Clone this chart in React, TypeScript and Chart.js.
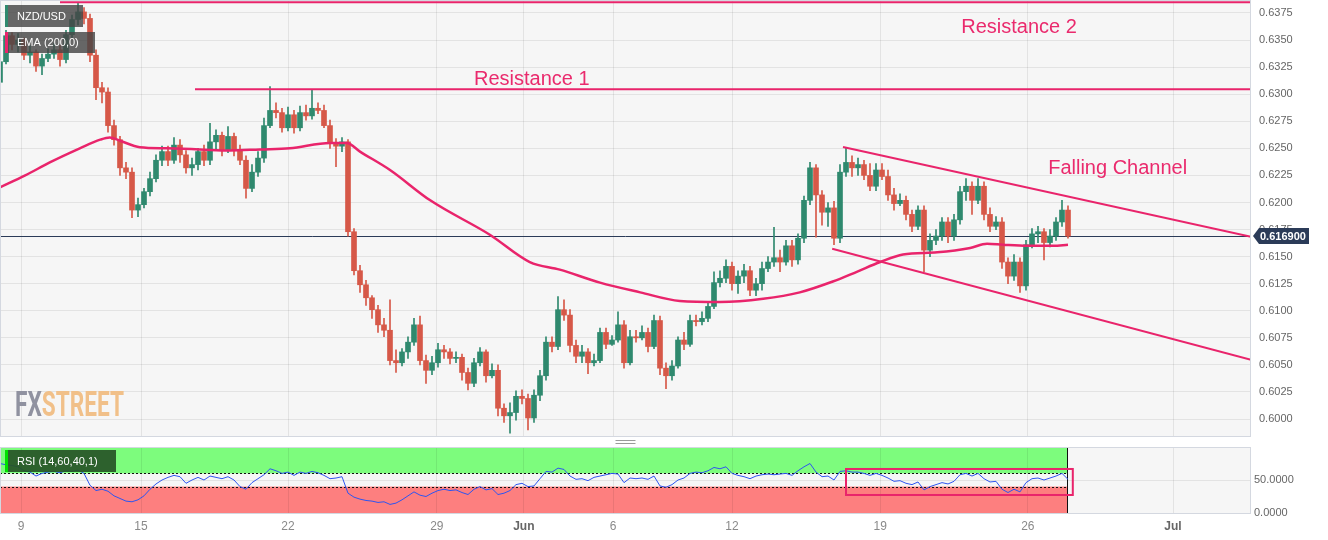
import React, { useEffect, useRef } from "react";
import { Chart, registerables } from "chart.js";

Chart.register(...registerables);

const FONT = "'Liberation Sans', Arial, sans-serif";

// ---- candle data (one candle per slot) ----
const opens = [0.6311, 0.6330, 0.6354, 0.6346, 0.6350, 0.6336, 0.6339, 0.6326, 0.6333, 0.6337,
  0.6341, 0.6332, 0.6355, 0.6369, 0.6376, 0.6370, 0.6336, 0.6306, 0.6302, 0.6271,
  0.6258, 0.6232, 0.6228, 0.6193, 0.6198, 0.6210, 0.6222, 0.6239, 0.6247, 0.6239,
  0.6253, 0.6244, 0.6232, 0.6235, 0.6247, 0.6239, 0.6256, 0.6262, 0.6248, 0.6261,
  0.6248, 0.6239, 0.6213, 0.6228, 0.6241, 0.6271, 0.6285, 0.6283, 0.6269, 0.6281,
  0.6269, 0.6283, 0.6280, 0.6287, 0.6285, 0.6271, 0.6255, 0.6252, 0.6256, 0.6173,
  0.6137, 0.6124, 0.6112, 0.6101, 0.6087, 0.6082, 0.6054, 0.6052, 0.6062, 0.6071,
  0.6087, 0.6054, 0.6045, 0.6052, 0.6064, 0.6062, 0.6056, 0.6057, 0.6043, 0.6033,
  0.6052, 0.6062, 0.6040, 0.6045, 0.6010, 0.6003, 0.6006, 0.6021, 0.6019, 0.6001,
  0.6022, 0.6040, 0.6071, 0.6067, 0.6101, 0.6096, 0.6068, 0.6058, 0.6062, 0.6052,
  0.6054, 0.6080, 0.6069, 0.6073, 0.6087, 0.6052, 0.6076, 0.6075, 0.6080, 0.6067,
  0.6091, 0.6047, 0.6040, 0.6049, 0.6073, 0.6069, 0.6091, 0.6090, 0.6093, 0.6104,
  0.6126, 0.6130, 0.6141, 0.6125, 0.6132, 0.6137, 0.6119, 0.6125, 0.6139, 0.6145,
  0.6149, 0.6145, 0.6160, 0.6147, 0.6167, 0.6202, 0.6232, 0.6207, 0.6191, 0.6195,
  0.6167, 0.6228, 0.6237, 0.6232, 0.6235, 0.6225, 0.6215, 0.6230, 0.6224, 0.6207,
  0.6199, 0.6202, 0.6189, 0.6178, 0.6193, 0.6156, 0.6165, 0.6169, 0.6182, 0.6169,
  0.6184, 0.6210, 0.6215, 0.6202, 0.6215, 0.6189, 0.6178, 0.6182, 0.6145, 0.6132,
  0.6145, 0.6123, 0.6161, 0.6171, 0.6173, 0.6163, 0.6169, 0.6182, 0.6193];

const highs = [0.6333, 0.6359, 0.6357, 0.6356, 0.6352, 0.6345, 0.6341, 0.6337, 0.6342, 0.6347,
  0.6345, 0.6359, 0.6373, 0.6384, 0.6380, 0.6374, 0.6341, 0.6311, 0.6306, 0.6276,
  0.6261, 0.6237, 0.6232, 0.6204, 0.6213, 0.6228, 0.6244, 0.6252, 0.6252, 0.6260,
  0.6258, 0.6248, 0.6241, 0.6250, 0.6253, 0.6273, 0.6267, 0.6265, 0.6270, 0.6264,
  0.6253, 0.6243, 0.6235, 0.6247, 0.6278, 0.6307, 0.6292, 0.6287, 0.6288, 0.6285,
  0.6289, 0.6290, 0.6304, 0.6292, 0.6290, 0.6276, 0.6259, 0.6260, 0.6258, 0.6176,
  0.6142, 0.6128, 0.6114, 0.6105, 0.6093, 0.6110, 0.6064, 0.6065, 0.6076, 0.6093,
  0.6095, 0.6059, 0.6058, 0.6070, 0.6068, 0.6065, 0.6062, 0.6060, 0.6047, 0.6056,
  0.6066, 0.6064, 0.6051, 0.6050, 0.6014, 0.6015, 0.6026, 0.6027, 0.6023, 0.6027,
  0.6045, 0.6076, 0.6076, 0.6113, 0.6110, 0.6101, 0.6073, 0.6068, 0.6065, 0.6060,
  0.6084, 0.6084, 0.6077, 0.6099, 0.6091, 0.6082, 0.6082, 0.6086, 0.6084, 0.6096,
  0.6095, 0.6052, 0.6054, 0.6076, 0.6080, 0.6096, 0.6096, 0.6099, 0.6108, 0.6136,
  0.6137, 0.6147, 0.6145, 0.6137, 0.6143, 0.6141, 0.6130, 0.6145, 0.6150, 0.6177,
  0.6156, 0.6165, 0.6165, 0.6171, 0.6206, 0.6237, 0.6235, 0.6211, 0.6200, 0.6201,
  0.6235, 0.6251, 0.6243, 0.6241, 0.6239, 0.6236, 0.6236, 0.6236, 0.6230, 0.6213,
  0.6208, 0.6206, 0.6193, 0.6197, 0.6197, 0.6171, 0.6175, 0.6186, 0.6186, 0.6189,
  0.6215, 0.6222, 0.6219, 0.6222, 0.6219, 0.6195, 0.6187, 0.6186, 0.6149, 0.6152,
  0.6149, 0.6165, 0.6176, 0.6178, 0.6176, 0.6175, 0.6186, 0.6202, 0.6197];

const lows = [0.6309, 0.6328, 0.6341, 0.6339, 0.6332, 0.6329, 0.6321, 0.6318, 0.6330, 0.6333,
  0.6326, 0.6329, 0.6352, 0.6364, 0.6365, 0.6330, 0.6295, 0.6292, 0.6265, 0.6253,
  0.6225, 0.6222, 0.6186, 0.6187, 0.6195, 0.6206, 0.6219, 0.6234, 0.6234, 0.6236,
  0.6237, 0.6227, 0.6225, 0.6230, 0.6234, 0.6235, 0.6248, 0.6243, 0.6246, 0.6243,
  0.6235, 0.6204, 0.6210, 0.6224, 0.6237, 0.6269, 0.6278, 0.6265, 0.6266, 0.6264,
  0.6266, 0.6276, 0.6277, 0.6282, 0.6269, 0.6250, 0.6233, 0.6247, 0.6169, 0.6133,
  0.6117, 0.6105, 0.6093, 0.6080, 0.6076, 0.6050, 0.6043, 0.6049, 0.6056, 0.6068,
  0.6050, 0.6033, 0.6041, 0.6048, 0.6056, 0.6051, 0.6052, 0.6036, 0.6027, 0.6030,
  0.6049, 0.6034, 0.6038, 0.6003, 0.5997, 0.5987, 0.5999, 0.6014, 0.5990, 0.5997,
  0.6017, 0.6036, 0.6062, 0.6064, 0.6091, 0.6062, 0.6052, 0.6052, 0.6042, 0.6049,
  0.6052, 0.6065, 0.6068, 0.6071, 0.6047, 0.6050, 0.6071, 0.6073, 0.6062, 0.6065,
  0.6041, 0.6028, 0.6036, 0.6047, 0.6064, 0.6067, 0.6086, 0.6087, 0.6090, 0.6102,
  0.6122, 0.6126, 0.6119, 0.6116, 0.6126, 0.6114, 0.6114, 0.6119, 0.6136, 0.6141,
  0.6136, 0.6142, 0.6141, 0.6143, 0.6163, 0.6198, 0.6168, 0.6179, 0.6178, 0.6161,
  0.6163, 0.6224, 0.6224, 0.6225, 0.6221, 0.6211, 0.6211, 0.6221, 0.6202, 0.6193,
  0.6197, 0.6184, 0.6173, 0.6175, 0.6136, 0.6150, 0.6161, 0.6165, 0.6163, 0.6165,
  0.6180, 0.6202, 0.6189, 0.6199, 0.6184, 0.6173, 0.6175, 0.6139, 0.6125, 0.6128,
  0.6117, 0.6119, 0.6158, 0.6163, 0.6147, 0.6159, 0.6165, 0.6178, 0.6167];

const closes = [0.6330, 0.6354, 0.6346, 0.6350, 0.6336, 0.6339, 0.6326, 0.6333, 0.6337, 0.6341,
  0.6332, 0.6355, 0.6369, 0.6376, 0.6370, 0.6336, 0.6306, 0.6302, 0.6271, 0.6258,
  0.6232, 0.6228, 0.6193, 0.6198, 0.6210, 0.6222, 0.6239, 0.6247, 0.6239, 0.6253,
  0.6244, 0.6232, 0.6235, 0.6247, 0.6239, 0.6256, 0.6262, 0.6248, 0.6261, 0.6248,
  0.6239, 0.6213, 0.6228, 0.6241, 0.6271, 0.6285, 0.6283, 0.6269, 0.6281, 0.6269,
  0.6283, 0.6280, 0.6287, 0.6285, 0.6271, 0.6255, 0.6252, 0.6256, 0.6173, 0.6137,
  0.6124, 0.6112, 0.6101, 0.6087, 0.6082, 0.6054, 0.6052, 0.6062, 0.6071, 0.6087,
  0.6054, 0.6045, 0.6052, 0.6064, 0.6062, 0.6056, 0.6057, 0.6043, 0.6033, 0.6052,
  0.6062, 0.6040, 0.6045, 0.6010, 0.6003, 0.6006, 0.6021, 0.6019, 0.6001, 0.6022,
  0.6040, 0.6071, 0.6067, 0.6101, 0.6096, 0.6068, 0.6058, 0.6062, 0.6052, 0.6054,
  0.6080, 0.6069, 0.6073, 0.6087, 0.6052, 0.6076, 0.6075, 0.6080, 0.6067, 0.6091,
  0.6047, 0.6040, 0.6049, 0.6073, 0.6069, 0.6091, 0.6090, 0.6093, 0.6104, 0.6126,
  0.6130, 0.6141, 0.6125, 0.6132, 0.6137, 0.6119, 0.6125, 0.6139, 0.6145, 0.6149,
  0.6145, 0.6160, 0.6147, 0.6167, 0.6202, 0.6232, 0.6207, 0.6191, 0.6195, 0.6167,
  0.6228, 0.6237, 0.6232, 0.6235, 0.6225, 0.6215, 0.6230, 0.6224, 0.6207, 0.6199,
  0.6202, 0.6189, 0.6178, 0.6193, 0.6156, 0.6165, 0.6169, 0.6182, 0.6169, 0.6184,
  0.6210, 0.6215, 0.6202, 0.6215, 0.6189, 0.6178, 0.6182, 0.6145, 0.6132, 0.6145,
  0.6123, 0.6161, 0.6171, 0.6173, 0.6163, 0.6169, 0.6182, 0.6193, 0.6169];

// ---- RSI (14) per candle ----
const rsiValues = [75, 73, 72, 70, 64, 62, 56, 60, 62, 63,
  61, 64, 63, 65, 60, 42, 34, 36, 33, 26,
  22, 18, 17, 20, 26, 36, 44, 50, 54, 57,
  55, 45, 50, 54, 50, 56, 54, 52, 55, 50,
  40, 36, 46, 52, 58, 67, 64, 60, 62, 57,
  62, 60, 63, 61, 57, 52, 53, 55, 30, 24,
  21, 19, 18, 16, 17, 13, 15, 20, 26, 32,
  27, 25, 30, 34, 36, 34, 35, 31, 28, 36,
  40, 35, 37, 28, 30, 34, 43, 45, 40, 41,
  52, 63, 62, 68, 66, 56, 51, 52, 49, 54,
  56, 58, 60, 59, 46, 53, 52, 53, 51, 56,
  41, 39, 43, 50, 53, 60, 62, 61, 64, 69,
  67, 70, 60, 57, 55, 52, 56, 58, 59, 58,
  59, 60, 57, 64, 70, 75, 62, 55, 56, 50,
  63, 64, 62, 62, 60, 57, 60, 57, 53, 48,
  49, 45, 43, 47, 35, 40, 43, 46, 44, 48,
  58, 60, 56, 60, 52, 47, 48, 36, 31, 36,
  32, 46, 52, 53, 50, 53, 56, 60, 51];

// ---- EMA(200) read at candle positions ----
const emaIdx = [0, 4.2, 8.3, 13.3, 16.7, 18.3, 20, 23.3, 27.8, 33.3,
  38.3, 43.3, 48.3, 55, 57.8, 60, 65, 71.7, 81.7, 88.3,
  93.3, 100, 106.7, 113.3, 120, 127.2, 133.3, 138.8, 142.8, 146.7,
  150.5, 156.2, 161.7, 164.5, 167.2, 171.2, 175.5, 178];
const emaValues = [0.6214, 0.6225, 0.6237, 0.6250, 0.6258, 0.6260, 0.6257, 0.6251, 0.6250, 0.6249,
  0.6248, 0.6249, 0.6250, 0.6255, 0.6255, 0.6247, 0.6230, 0.6202, 0.6170, 0.6145,
  0.6138, 0.6126, 0.6117, 0.6109, 0.6108, 0.6111, 0.6117, 0.6127, 0.6136, 0.6145,
  0.6152, 0.6154, 0.6158, 0.6162, 0.6161, 0.6160, 0.6160, 0.6161];

// ---- axes ----
const X_MIN = 0;
const X_MAX = 208.5;
const xTickIdx = [3.5, 23.5, 48, 72.8, 87.3, 102.2, 122, 146.7, 171.3, 195.5];
const xTickLabels = ["9", "15", "22", "29", "Jun", "6", "12", "19", "26", "Jul"];
const Y_MAX = 0.6387;
const Y_MIN = 0.598435;
const priceTicks = [0.6000, 0.6025, 0.6050, 0.6075, 0.6100, 0.6125, 0.6150, 0.6175,
  0.6200, 0.6225, 0.6250, 0.6275, 0.6300, 0.6325, 0.6350, 0.6375];
const rsiTicks = [0, 50];

// ---- drawn lines (resistances, channel) ----
const lineStartIdx = [10, 32.5, 140.5, 138.7];
const lineEndIdx = [208.5, 208.5, 208.5, 208.5];
const lineStartPrice = [0.6385, 0.63045, 0.62513, 0.61572];
const lineEndPrice = [0.6385, 0.63045, 0.61683, 0.60547];

const noteTexts = ["Resistance 1", "Resistance 2", "Falling Channel"];
const noteIdx = [79, 160.2, 174.7];
const notePrice = [0.6314, 0.6362, 0.62318];

const lastPrice = 0.6169;
const rsiUpper = 60;
const rsiLower = 40;
const rsiBoxIdx = [141, 178.8];
const rsiBoxValues = [27.3, 66.7];

const GREEN = "#2f896e";
const RED = "#d65848";
const PINK = "#e9246b";
const GRID = "rgba(0,0,0,0.075)";

function labelBox(ctx: CanvasRenderingContext2D, x: number, y: number, w: number, h: number, bg: string, accent: string, text: string) {
  ctx.save();
  ctx.fillStyle = bg;
  ctx.fillRect(x, y, w, h);
  ctx.fillStyle = accent;
  ctx.fillRect(x, y, 3, h);
  ctx.fillStyle = "#ffffff";
  ctx.font = `11px ${FONT}`;
  ctx.textBaseline = "middle";
  ctx.textAlign = "left";
  ctx.fillText(text, x + 12, y + h / 2 + 0.5);
  ctx.restore();
}

function frame(ctx: CanvasRenderingContext2D, a: any) {
  ctx.save();
  ctx.strokeStyle = "#d4d8e0";
  ctx.lineWidth = 1;
  ctx.strokeRect(a.left + 0.5, a.top + 0.5, a.right - a.left - 1, a.bottom - a.top);
  ctx.restore();
}

export default function App() {
  const mainRef = useRef<HTMLCanvasElement>(null);
  const rsiRef = useRef<HTMLCanvasElement>(null);

  useEffect(() => {
    document.body.style.margin = "0";
    const idx = closes.map((_, i) => i);
    const colors = idx.map((i) => (closes[i] >= opens[i] ? GREEN : RED));

    const xAfterBuild = (s: any) => {
      s.ticks = xTickIdx.map((v) => ({ value: v }));
    };

    const mainPlugin = {
      id: "mainDecor",
      beforeDraw(chart: any) {
        const { ctx, chartArea: a } = chart;
        ctx.save();
        ctx.fillStyle = "#f6f6f6";
        ctx.fillRect(a.left, a.top, a.right - a.left, a.bottom - a.top);
        ctx.restore();
      },
      beforeDatasetsDraw(chart: any) {
        const { ctx, chartArea: a, scales } = chart;
        // watermark
        ctx.save();
        ctx.font = `bold 35px Roboto, ${FONT}`;
        ctx.textBaseline = "alphabetic";
        const wFX = ctx.measureText("FX").width;
        const wAll = ctx.measureText("FXSTREET").width;
        const sx = 109 / wAll;
        ctx.translate(15, 416);
        ctx.scale(sx, 1);
        ctx.fillStyle = "#9092a0";
        ctx.fillText("FX", 0, 0);
        ctx.fillStyle = "#f1c089";
        ctx.fillText("STREET", wFX, 0);
        ctx.restore();
        // last price line
        const y = Math.round(scales.y.getPixelForValue(lastPrice)) + 0.5;
        ctx.save();
        ctx.strokeStyle = "#2b3b58";
        ctx.lineWidth = 1;
        ctx.beginPath();
        ctx.moveTo(a.left, y);
        ctx.lineTo(a.right, y);
        ctx.stroke();
        ctx.restore();
      },
      afterDatasetsDraw(chart: any) {
        const { ctx, scales } = chart;
        ctx.save();
        ctx.font = `20px ${FONT}`;
        ctx.fillStyle = "#ea2a6d";
        ctx.textBaseline = "middle";
        ctx.textAlign = "left";
        noteTexts.forEach((t, k) => {
          ctx.fillText(t, scales.x.getPixelForValue(noteIdx[k]), scales.y.getPixelForValue(notePrice[k]));
        });
        ctx.restore();
      },
      afterDraw(chart: any) {
        const { ctx, chartArea: a, scales } = chart;
        frame(ctx, a);
        // price tag
        const y = Math.round(scales.y.getPixelForValue(lastPrice));
        ctx.save();
        ctx.fillStyle = "#2b3b58";
        ctx.beginPath();
        ctx.moveTo(a.right + 2, y);
        ctx.lineTo(a.right + 8, y - 8);
        ctx.lineTo(a.right + 58, y - 8);
        ctx.lineTo(a.right + 58, y + 8);
        ctx.lineTo(a.right + 8, y + 8);
        ctx.closePath();
        ctx.fill();
        ctx.fillStyle = "#ffffff";
        ctx.font = `bold 11px ${FONT}`;
        ctx.textBaseline = "middle";
        ctx.fillText(lastPrice.toFixed(6), a.right + 9, y + 0.5);
        ctx.restore();
        labelBox(ctx, 5, 5, 78, 22, "rgba(70,70,70,0.82)", GREEN, "NZD/USD");
        labelBox(ctx, 5, 32, 90, 21, "rgba(70,70,70,0.82)", PINK, "EMA (200,0)");
      },
    };

    const lineSets = lineStartIdx.map((s, k) => ({
      type: "line" as const,
      data: [
        { x: s, y: lineStartPrice[k] },
        { x: lineEndIdx[k], y: lineEndPrice[k] },
      ],
      borderColor: PINK,
      borderWidth: 2,
      pointRadius: 0,
      order: 0,
    }));

    const main = new Chart(mainRef.current as HTMLCanvasElement, {
      type: "bar",
      data: {
        datasets: [
          {
            type: "bar",
            data: idx.map((i) => ({ x: i, y: [lows[i], highs[i]] })) as any,
            backgroundColor: colors,
            barThickness: 1,
            grouped: false,
            order: 3,
          } as any,
          {
            type: "bar",
            data: idx.map((i) => ({ x: i, y: [opens[i], closes[i]] })) as any,
            backgroundColor: colors,
            barThickness: 5,
            minBarLength: 1,
            grouped: false,
            order: 2,
          } as any,
          {
            type: "line",
            data: emaIdx.map((x, k) => ({ x, y: emaValues[k] })),
            borderColor: PINK,
            borderWidth: 2.5,
            pointRadius: 0,
            cubicInterpolationMode: "monotone",
            order: 1,
          } as any,
          ...lineSets,
        ],
      },
      options: {
        animation: false,
        responsive: false,
        maintainAspectRatio: false,
        layout: { padding: 0 },
        plugins: { legend: { display: false }, tooltip: { enabled: false } },
        scales: {
          x: {
            type: "linear",
            min: X_MIN,
            max: X_MAX,
            offset: false,
            afterBuildTicks: xAfterBuild,
            ticks: { display: false },
            grid: { color: GRID, drawTicks: false, offset: false },
            border: { display: false },
            afterFit: (s: any) => {
              s.height = 1;
              s.paddingLeft = 0;
              s.paddingRight = 0;
            },
          },
          y: {
            position: "right",
            min: Y_MIN,
            max: Y_MAX,
            afterBuildTicks: (s: any) => {
              s.ticks = priceTicks.map((v) => ({ value: v }));
            },
            ticks: {
              callback: (v: any) => Number(v).toFixed(4),
              font: { family: FONT, size: 11 },
              color: "#666666",
              padding: 8,
            },
            grid: { color: GRID, drawTicks: false },
            border: { display: false },
            afterFit: (s: any) => {
              s.width = 77;
              s.paddingTop = 0;
              s.paddingBottom = 0;
            },
          },
        },
      } as any,
      plugins: [mainPlugin],
    });

    const rsiPlugin = {
      id: "rsiDecor",
      beforeDraw(chart: any) {
        const { ctx, chartArea: a, scales } = chart;
        const xs = scales.x;
        const ys = scales.y;
        ctx.save();
        ctx.fillStyle = "#f6f6f6";
        ctx.fillRect(a.left, a.top, a.right - a.left, a.bottom - a.top);
        const x0 = xs.getPixelForValue(0);
        const x1 = xs.getPixelForValue(closes.length - 1);
        const y100 = ys.getPixelForValue(100);
        const yU = ys.getPixelForValue(rsiUpper);
        const yL = ys.getPixelForValue(rsiLower);
        const y0 = ys.getPixelForValue(0);
        ctx.fillStyle = "#7dfc7d";
        ctx.fillRect(x0, y100, x1 - x0, yU - y100);
        ctx.fillStyle = "#fd7f7f";
        ctx.fillRect(x0, yL, x1 - x0, y0 - yL);
        ctx.restore();
      },
      beforeDatasetsDraw(chart: any) {
        const { ctx, scales } = chart;
        const xs = scales.x;
        const ys = scales.y;
        const x0 = xs.getPixelForValue(0);
        const x1 = xs.getPixelForValue(closes.length - 1);
        ctx.save();
        ctx.strokeStyle = "#111111";
        ctx.lineWidth = 1;
        ctx.setLineDash([2, 2]);
        [rsiUpper, rsiLower].forEach((v) => {
          const y = Math.round(ys.getPixelForValue(v)) + 0.5;
          ctx.beginPath();
          ctx.moveTo(x0, y);
          ctx.lineTo(x1, y);
          ctx.stroke();
        });
        ctx.setLineDash([]);
        const yt = ys.getPixelForValue(100);
        const yb = ys.getPixelForValue(0);
        [x0 + 0.5, Math.round(x1) - 0.5].forEach((x) => {
          ctx.beginPath();
          ctx.moveTo(x, yt);
          ctx.lineTo(x, yb);
          ctx.stroke();
        });
        ctx.restore();
      },
      afterDatasetsDraw(chart: any) {
        const { ctx, scales } = chart;
        const xs = scales.x;
        const ys = scales.y;
        const l = xs.getPixelForValue(rsiBoxIdx[0]);
        const r = xs.getPixelForValue(rsiBoxIdx[1]);
        const t = ys.getPixelForValue(rsiBoxValues[1]);
        const b = ys.getPixelForValue(rsiBoxValues[0]);
        ctx.save();
        ctx.strokeStyle = PINK;
        ctx.lineWidth = 2;
        ctx.strokeRect(l, t, r - l, b - t);
        ctx.restore();
      },
      afterDraw(chart: any) {
        const { ctx, chartArea: a } = chart;
        frame(ctx, a);
        // pane splitter handle
        ctx.save();
        ctx.strokeStyle = "#9a9a9a";
        ctx.lineWidth = 1;
        const cx = (a.left + a.right) / 2;
        [3.5, 6.5].forEach((y) => {
          ctx.beginPath();
          ctx.moveTo(cx - 10, y);
          ctx.lineTo(cx + 10, y);
          ctx.stroke();
        });
        ctx.restore();
        labelBox(ctx, 5, 13, 111, 22, "rgba(38,84,38,0.92)", "#00e000", "RSI (14,60,40,1)");
      },
    };

    const rsi = new Chart(rsiRef.current as HTMLCanvasElement, {
      type: "line",
      data: {
        datasets: [
          {
            data: rsiValues.map((v, i) => ({ x: i, y: v })),
            borderColor: "#2e55f0",
            borderWidth: 1,
            pointRadius: 0,
            tension: 0,
          },
        ],
      },
      options: {
        animation: false,
        responsive: false,
        maintainAspectRatio: false,
        layout: { padding: { top: 10, left: 0, right: 0, bottom: 0 } },
        plugins: { legend: { display: false }, tooltip: { enabled: false } },
        scales: {
          x: {
            type: "linear",
            min: X_MIN,
            max: X_MAX,
            offset: false,
            afterBuildTicks: xAfterBuild,
            ticks: {
              callback: (_v: any, i: number) => xTickLabels[i],
              maxRotation: 0,
              autoSkip: false,
              padding: 6,
              font: (c: any) => ({
                family: FONT,
                size: 12,
                weight: xTickLabels[c.index] === "Jun" || xTickLabels[c.index] === "Jul" ? "bold" : "normal",
              }),
              color: (c: any) =>
                xTickLabels[c.index] === "Jun" || xTickLabels[c.index] === "Jul" ? "#666666" : "#8a8a8a",
            },
            grid: { color: GRID, drawTicks: false, offset: false },
            border: { display: false },
            afterFit: (s: any) => {
              s.height = 27;
              s.paddingLeft = 0;
              s.paddingRight = 0;
            },
          },
          y: {
            position: "right",
            min: 0,
            max: 100,
            afterBuildTicks: (s: any) => {
              s.ticks = rsiTicks.map((v) => ({ value: v }));
            },
            ticks: {
              callback: (v: any) => Number(v).toFixed(4),
              font: { family: FONT, size: 11 },
              color: "#666666",
              padding: 3,
            },
            grid: { color: GRID, drawTicks: false },
            border: { display: false },
            afterFit: (s: any) => {
              s.width = 77;
              s.paddingTop = 0;
              s.paddingBottom = 0;
            },
          },
        },
      } as any,
      plugins: [rsiPlugin],
    });

    return () => {
      main.destroy();
      rsi.destroy();
    };
  }, []);

  return (
    <div style={{ position: "relative", width: 1328, height: 540, background: "#ffffff", overflow: "hidden" }}>
      <canvas
        ref={mainRef}
        width={1328}
        height={437}
        style={{ position: "absolute", left: 0, top: 0, width: 1328, height: 437, display: "block" }}
      />
      <canvas
        ref={rsiRef}
        width={1328}
        height={103}
        style={{ position: "absolute", left: 0, top: 437, width: 1328, height: 103, display: "block" }}
      />
    </div>
  );
}
